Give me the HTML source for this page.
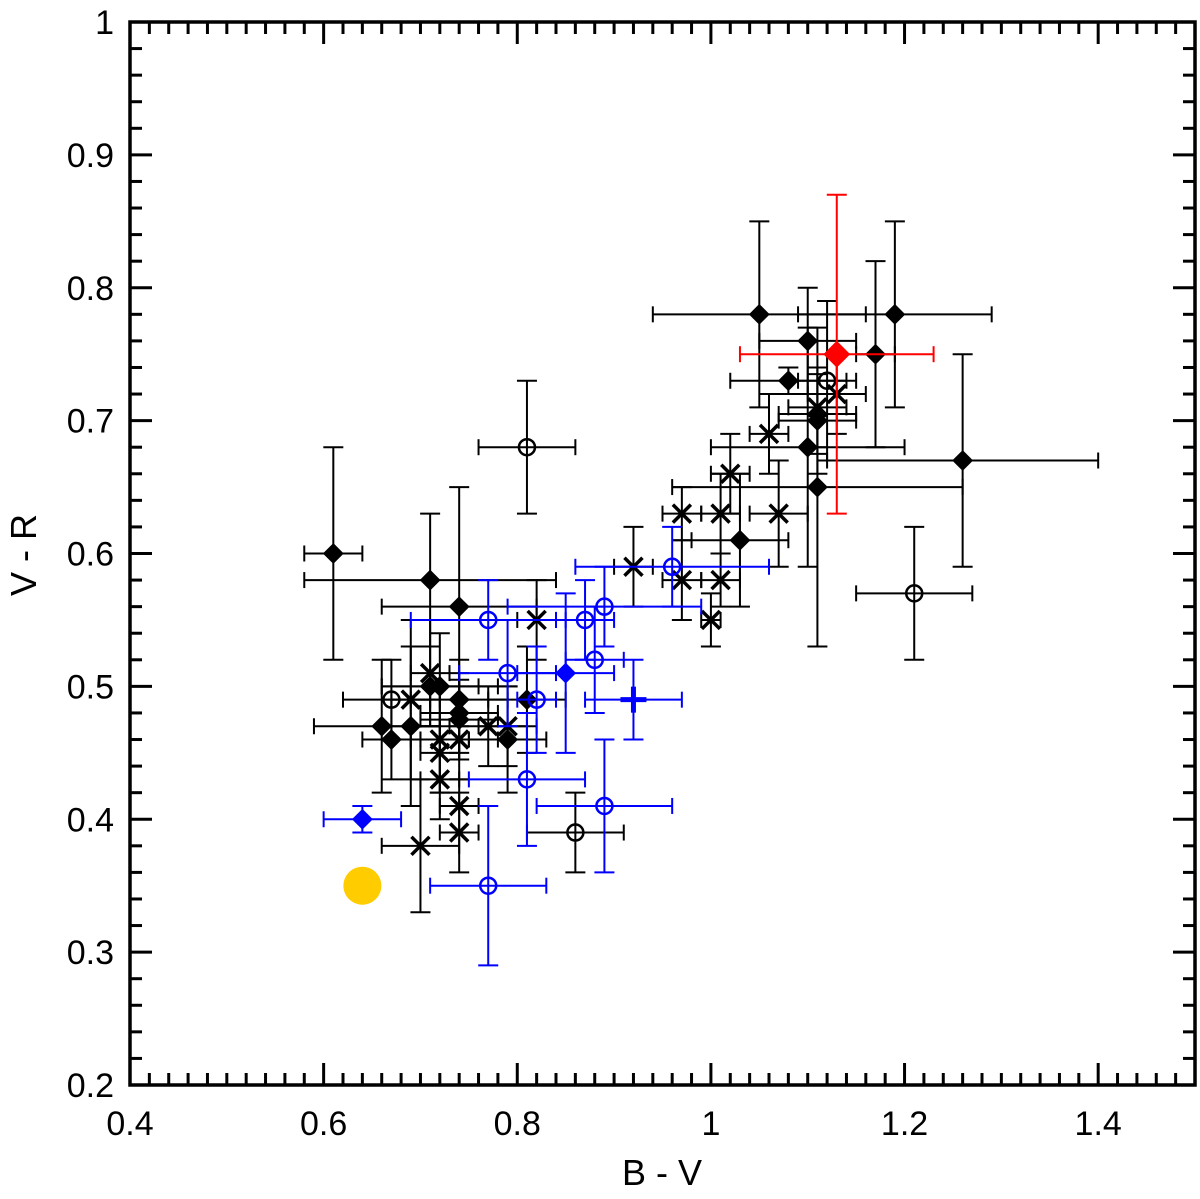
<!DOCTYPE html>
<html><head><meta charset="utf-8"><style>
html,body{margin:0;padding:0;background:#fff}
svg text{font-family:"Liberation Sans",Arial,sans-serif}
</style></head><body>
<svg id="chart" width="1200" height="1194" viewBox="0 0 1200 1194" xmlns="http://www.w3.org/2000/svg"></svg>
<script>
// series: [x, y, xerr, yerr]
const blackDiamonds = [[0.61,0.60,0.03,0.08],[0.71,0.58,0.13,0.05],[0.74,0.56,0.08,0.09],[0.71,0.50,0.05,0.03],[0.72,0.50,0.06,0.04],[0.74,0.49,0.05,0.03],[0.74,0.48,0.04,0.03],[0.74,0.475,0.04,0.03],[0.66,0.47,0.07,0.05],[0.67,0.46,0.03,0.03],[0.69,0.47,0.03,0.06],[0.79,0.46,0.04,0.04],[0.81,0.49,0.04,0.04],[1.05,0.78,0.11,0.07],[1.10,0.76,0.05,0.04],[1.19,0.78,0.10,0.07],[1.17,0.75,0.02,0.07],[1.08,0.73,0.06,0.01],[1.11,0.70,0.04,0.04],[1.11,0.705,0.04,0.03],[1.10,0.68,0.10,0.09],[1.26,0.67,0.14,0.08],[1.11,0.65,0.15,0.12],[1.03,0.61,0.05,0.05]];
const blackCircles = [[0.81,0.68,0.05,0.05],[1.12,0.73,0.03,0.06],[1.21,0.57,0.06,0.05],[0.86,0.39,0.05,0.03],[0.67,0.49,0.05,0.03]];
const blackStars = [[1.13,0.72,0.03,0.03],[1.11,0.71,0.03,0.03],[1.06,0.69,0.02,0.03],[1.02,0.66,0.02,0.03],[0.97,0.63,0.02,0.02],[1.01,0.63,0.02,0.03],[1.07,0.63,0.03,0.04],[0.92,0.59,0.02,0.03],[0.97,0.58,0.02,0.03],[1.01,0.58,0.02,0.02],[1.00,0.55,0.01,0.02],[0.82,0.55,0.02,0.03],[0.71,0.51,0.02,0.04],[0.69,0.49,0.02,0.06],[0.72,0.46,0.03,0.04],[0.72,0.45,0.02,0.03],[0.74,0.46,0.04,0.03],[0.77,0.47,0.04,0.03],[0.79,0.47,0.03,0.03],[0.72,0.43,0.02,0.03],[0.74,0.41,0.02,0.02],[0.74,0.39,0.02,0.03],[0.70,0.38,0.04,0.05]];
const blueCircles = [[0.77,0.55,0.08,0.03],[0.87,0.55,0.03,0.03],[0.89,0.56,0.10,0.03],[0.96,0.59,0.10,0.03],[0.79,0.51,0.05,0.04],[0.82,0.49,0.02,0.04],[0.88,0.52,0.03,0.04],[0.81,0.43,0.06,0.05],[0.89,0.41,0.07,0.05],[0.77,0.35,0.06,0.06]];
const blueDiamonds = [[0.85,0.51,0.05,0.06],[0.64,0.40,0.04,0.01]];
const bluePlus = [[0.92,0.49,0.05,0.03]];
const redDiamond = [[1.13,0.75,0.10,0.12]];
const sunPoint = [[0.64,0.35]];
const xTicks = [0.4,0.6,0.8,1,1.2,1.4];
const yTicks = [0.2,0.3,0.4,0.5,0.6,0.7,0.8,0.9,1];

const svg = document.getElementById('chart');
const NS = 'http://www.w3.org/2000/svg';
const L=130,R=1195,T=22,B=1085;
function X(v){return L+(v-0.4)*(R-L)/1.1;}
function Y(v){return B-(v-0.2)*(B-T)/0.8;}
function mk(tag,attrs,parent){const e=document.createElementNS(NS,tag);for(const k in attrs)e.setAttribute(k,attrs[k]);(parent||svg).appendChild(e);return e;}

const frame=mk('rect',{x:L,y:T,width:R-L,height:B-T,fill:'none',stroke:'#000','stroke-width':3.5});


const tg=mk('g',{stroke:'#000','stroke-width':3});


for(let i=0;i<=55;i++){const v=0.4+i*0.02;const x=X(v);const len=(i%10===0)?22:12;
 mk('line',{x1:x,y1:B,x2:x,y2:B-len},tg);mk('line',{x1:x,y1:T,x2:x,y2:T+len},tg);}
for(let i=0;i<=40;i++){const v=0.2+i*0.02;const y=Y(v);const len=(i%5===0)?22:12;
 mk('line',{x1:L,y1:y,x2:L+len,y2:y},tg);mk('line',{x1:R,y1:y,x2:R-len,y2:y},tg);}
xTicks.forEach(v=>{const t=mk('text',{x:X(v),y:B+50,'text-anchor':'middle','font-size':34});t.textContent=(v===1?'1':String(v));
 
 });
yTicks.forEach(v=>{const t=mk('text',{x:L-16,y:Y(v)+12,'text-anchor':'end','font-size':34});t.textContent=(v===1?'1':String(v));
 
 });
const xt=mk('text',{x:662,y:1185,'text-anchor':'middle','font-size':36});xt.textContent='B - V';


const yt=mk('text',{x:36,y:555,'text-anchor':'middle','font-size':36,transform:'rotate(-90 36 555)'});yt.textContent='V - R';



function errbars(d,col,g){const x=X(d[0]),y=Y(d[1]);const x1=X(d[0]-d[2]),x2=X(d[0]+d[2]),y1=Y(d[1]+d[3]),y2=Y(d[1]-d[3]);
 mk('line',{x1:x1,y1:y,x2:x2,y2:y},g);mk('line',{x1:x,y1:y1,x2:x,y2:y2},g);
 mk('line',{x1:x1,y1:y-8,x2:x1,y2:y+8},g);mk('line',{x1:x2,y1:y-8,x2:x2,y2:y+8},g);
 mk('line',{x1:x-10,y1:y1,x2:x+10,y2:y1},g);mk('line',{x1:x-10,y1:y2,x2:x+10,y2:y2},g);}
function series(data,col,name,marker){
 const g=mk('g',{stroke:col,'stroke-width':2,fill:'none'});
 
 
 data.forEach(d=>{errbars(d,col,g);const x=X(d[0]),y=Y(d[1]);marker(g,x,y,col);});}
const diamond=(s)=>(g,x,y,c)=>mk('polygon',{points:`${x},${y-s} ${x+s},${y} ${x},${y+s} ${x-s},${y}`,fill:c,stroke:c},g);
const circ=(g,x,y,c)=>{mk('circle',{cx:x,cy:y,r:8,fill:'none','stroke-width':2.5},g);};
const star=(g,x,y,c)=>{mk('line',{x1:x-9,y1:y-9,x2:x+9,y2:y+9,'stroke-width':3.5},g);mk('line',{x1:x-9,y1:y+9,x2:x+9,y2:y-9,'stroke-width':3.5},g);};
const plus=(g,x,y,c)=>{mk('line',{x1:x-13,y1:y,x2:x+13,y2:y,'stroke-width':5},g);mk('line',{x1:x,y1:y-13,x2:x,y2:y+13,'stroke-width':5},g);};
series(blackDiamonds,'#000','black-diamond-series',diamond(9));
series(blackCircles,'#000','black-circle-series',circ);
series(blackStars,'#000','black-asterisk-series',star);
series(blueCircles,'#0000ff','blue-circle-series',circ);
series(blueDiamonds,'#0000ff','blue-diamond-series',diamond(9));
series(bluePlus,'#0000ff','blue-plus-series',plus);
series(redDiamond,'#ff0000','red-diamond-series',diamond(12));
sunPoint.forEach(d=>{const c=mk('circle',{cx:X(d[0]),cy:Y(d[1]),r:19,fill:'#ffcc00'});
 
 });
</script>
</body></html>
